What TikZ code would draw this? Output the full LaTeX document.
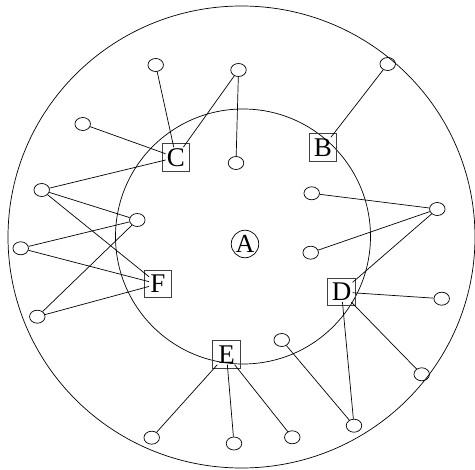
\documentclass[tikz,border=0pt]{standalone}
\usepackage{fontspec}
\setmainfont{Liberation Serif}
\usetikzlibrary{shapes.geometric}
\begin{document}
\begin{tikzpicture}[x=1pt,y=-1pt,line width=0.7pt,
  leaf/.style={ellipse,draw,minimum width=15.5pt,minimum height=13pt,inner sep=0pt},
  letter/.style={inner sep=1pt,font=\fontsize{27}{27}\selectfont},
  sq/.style={rectangle,draw=black!75,line width=0.9pt,minimum size=27.5pt,inner sep=0pt},
  hub/.style={circle,draw,minimum size=27.5pt,inner sep=0pt,font=\fontsize{26}{26}\selectfont}]
\useasboundingbox (0,0) rectangle (475,470);
% rings
\draw (241.5,237) ellipse [x radius=233.5,y radius=231];
\draw (243,236.5) circle [radius=127.5];
% centre
\node[hub] (A) at (245,244) {A};
% boxes
\node[sq] at (176,157.5) {};
\node[sq] at (323,147.5) {};
\node[sq] at (341.5,292) {};
\node[sq] at (226.5,354.5) {};
\node[sq] at (158,284) {};
\node[letter] (C) at (176,157.5) {C};
\node[letter] (B) at (323,147.5) {B};
\node[letter] (D) at (341.5,292) {D};
\node[letter] (E) at (226.5,354.5) {E};
\node[letter] (F) at (158,284) {F};
% leaves
\node[leaf] (n1) at (155.7,65) {};
\node[leaf] (n2) at (238.5,70) {};
\node[leaf] (n3) at (82.7,124) {};
\node[leaf] (n4) at (236,163) {};
\node[leaf] (n5) at (41.7,190) {};
\node[leaf] (n6) at (137.3,220) {};
\node[leaf] (n7) at (387.7,64) {};
\node[leaf] (n8) at (311.7,193.3) {};
\node[leaf] (n9) at (437.3,209) {};
\node[leaf] (n10) at (20.7,248.3) {};
\node[leaf] (n11) at (37.3,316.7) {};
\node[leaf] (n12) at (151.7,437.7) {};
\node[leaf] (n13) at (234,443.5) {};
\node[leaf] (n14) at (310.7,252.7) {};
\node[leaf] (n15) at (441.7,298.7) {};
\node[leaf] (n16) at (281.7,340) {};
\node[leaf] (n17) at (421.7,374.3) {};
\node[leaf] (n18) at (354,425.7) {};
\node[leaf] (n19) at (292.3,437.3) {};
% edges
\draw (n1) -- (C);
\draw (n2) -- (C);
\draw (n2) -- (n4);
\draw (n3) -- (C);
\draw (n5) -- (C);
\draw (n5) -- (n6);
\draw (n5) -- (F);
\draw (n10) -- (n6);
\draw (n10) -- (F);
\draw (n11) -- (n6);
\draw (n11) -- (F);
\draw (n7) -- (B);
\draw (n8) -- (n9);
\draw (n9) -- (n14);
\draw (n9) -- (D);
\draw (D) -- (n15);
\draw (D) -- (n17);
\draw (D) -- (n18);
\draw (n16) -- (n18);
\draw (E) -- (n12);
\draw (E) -- (n13);
\draw (E) -- (n19);
\end{tikzpicture}
\end{document}
